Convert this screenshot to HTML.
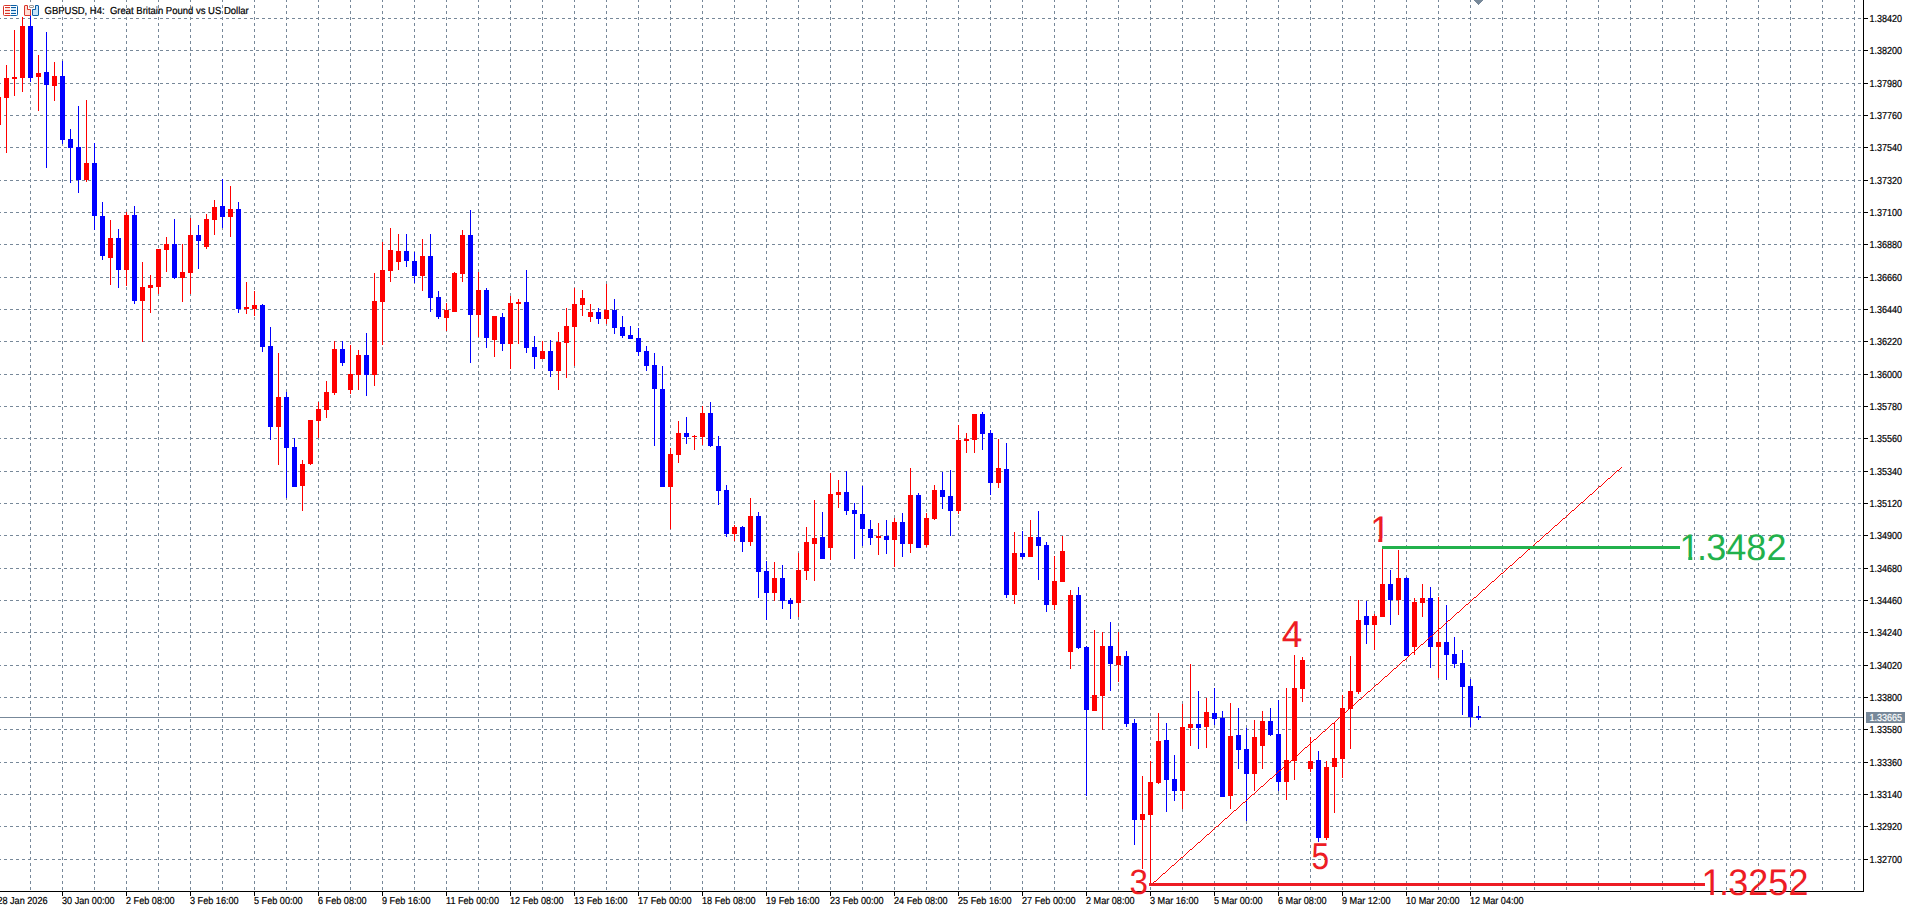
<!DOCTYPE html>
<html lang="en"><head><meta charset="utf-8"><title>GBPUSD, H4</title>
<style>html,body{margin:0;padding:0;background:#fff;overflow:hidden}svg{display:block}.g line{stroke:#778899;stroke-width:1;stroke-dasharray:3 3}.s{font-family:"Liberation Sans",sans-serif;font-size:9.7px;fill:#000;stroke:#000;stroke-width:.2px;white-space:pre;text-rendering:geometricPrecision}.n{font-family:"Liberation Sans",sans-serif;font-size:37px}.r{fill:#f00}.b{fill:#00f}</style></head><body>
<svg width="1911" height="909" viewBox="0 0 1911 909" shape-rendering="crispEdges">
<rect width="1911" height="909" fill="#fff"/>
<g class="g">
<line x1="30.5" y1="0" x2="30.5" y2="891" stroke-dashoffset="1"/>
<line x1="62.5" y1="0" x2="62.5" y2="891" stroke-dashoffset="1"/>
<line x1="94.5" y1="0" x2="94.5" y2="891" stroke-dashoffset="1"/>
<line x1="126.5" y1="0" x2="126.5" y2="891" stroke-dashoffset="1"/>
<line x1="158.5" y1="0" x2="158.5" y2="891" stroke-dashoffset="1"/>
<line x1="190.5" y1="0" x2="190.5" y2="891" stroke-dashoffset="1"/>
<line x1="222.5" y1="0" x2="222.5" y2="891" stroke-dashoffset="1"/>
<line x1="254.5" y1="0" x2="254.5" y2="891" stroke-dashoffset="1"/>
<line x1="286.5" y1="0" x2="286.5" y2="891" stroke-dashoffset="1"/>
<line x1="318.5" y1="0" x2="318.5" y2="891" stroke-dashoffset="1"/>
<line x1="350.5" y1="0" x2="350.5" y2="891" stroke-dashoffset="1"/>
<line x1="382.5" y1="0" x2="382.5" y2="891" stroke-dashoffset="1"/>
<line x1="414.5" y1="0" x2="414.5" y2="891" stroke-dashoffset="1"/>
<line x1="446.5" y1="0" x2="446.5" y2="891" stroke-dashoffset="1"/>
<line x1="478.5" y1="0" x2="478.5" y2="891" stroke-dashoffset="1"/>
<line x1="510.5" y1="0" x2="510.5" y2="891" stroke-dashoffset="1"/>
<line x1="542.5" y1="0" x2="542.5" y2="891" stroke-dashoffset="1"/>
<line x1="574.5" y1="0" x2="574.5" y2="891" stroke-dashoffset="1"/>
<line x1="606.5" y1="0" x2="606.5" y2="891" stroke-dashoffset="1"/>
<line x1="638.5" y1="0" x2="638.5" y2="891" stroke-dashoffset="1"/>
<line x1="670.5" y1="0" x2="670.5" y2="891" stroke-dashoffset="1"/>
<line x1="702.5" y1="0" x2="702.5" y2="891" stroke-dashoffset="1"/>
<line x1="734.5" y1="0" x2="734.5" y2="891" stroke-dashoffset="1"/>
<line x1="766.5" y1="0" x2="766.5" y2="891" stroke-dashoffset="1"/>
<line x1="798.5" y1="0" x2="798.5" y2="891" stroke-dashoffset="1"/>
<line x1="830.5" y1="0" x2="830.5" y2="891" stroke-dashoffset="1"/>
<line x1="862.5" y1="0" x2="862.5" y2="891" stroke-dashoffset="1"/>
<line x1="894.5" y1="0" x2="894.5" y2="891" stroke-dashoffset="1"/>
<line x1="926.5" y1="0" x2="926.5" y2="891" stroke-dashoffset="1"/>
<line x1="958.5" y1="0" x2="958.5" y2="891" stroke-dashoffset="1"/>
<line x1="990.5" y1="0" x2="990.5" y2="891" stroke-dashoffset="1"/>
<line x1="1022.5" y1="0" x2="1022.5" y2="891" stroke-dashoffset="1"/>
<line x1="1054.5" y1="0" x2="1054.5" y2="891" stroke-dashoffset="1"/>
<line x1="1086.5" y1="0" x2="1086.5" y2="891" stroke-dashoffset="1"/>
<line x1="1118.5" y1="0" x2="1118.5" y2="891" stroke-dashoffset="1"/>
<line x1="1150.5" y1="0" x2="1150.5" y2="891" stroke-dashoffset="1"/>
<line x1="1182.5" y1="0" x2="1182.5" y2="891" stroke-dashoffset="1"/>
<line x1="1214.5" y1="0" x2="1214.5" y2="891" stroke-dashoffset="1"/>
<line x1="1246.5" y1="0" x2="1246.5" y2="891" stroke-dashoffset="1"/>
<line x1="1278.5" y1="0" x2="1278.5" y2="891" stroke-dashoffset="1"/>
<line x1="1310.5" y1="0" x2="1310.5" y2="891" stroke-dashoffset="1"/>
<line x1="1342.5" y1="0" x2="1342.5" y2="891" stroke-dashoffset="1"/>
<line x1="1374.5" y1="0" x2="1374.5" y2="891" stroke-dashoffset="1"/>
<line x1="1406.5" y1="0" x2="1406.5" y2="891" stroke-dashoffset="1"/>
<line x1="1438.5" y1="0" x2="1438.5" y2="891" stroke-dashoffset="1"/>
<line x1="1470.5" y1="0" x2="1470.5" y2="891" stroke-dashoffset="1"/>
<line x1="1502.5" y1="0" x2="1502.5" y2="891" stroke-dashoffset="1"/>
<line x1="1534.5" y1="0" x2="1534.5" y2="891" stroke-dashoffset="1"/>
<line x1="1566.5" y1="0" x2="1566.5" y2="891" stroke-dashoffset="1"/>
<line x1="1598.5" y1="0" x2="1598.5" y2="891" stroke-dashoffset="1"/>
<line x1="1630.5" y1="0" x2="1630.5" y2="891" stroke-dashoffset="1"/>
<line x1="1662.5" y1="0" x2="1662.5" y2="891" stroke-dashoffset="1"/>
<line x1="1694.5" y1="0" x2="1694.5" y2="891" stroke-dashoffset="1"/>
<line x1="1726.5" y1="0" x2="1726.5" y2="891" stroke-dashoffset="1"/>
<line x1="1758.5" y1="0" x2="1758.5" y2="891" stroke-dashoffset="1"/>
<line x1="1790.5" y1="0" x2="1790.5" y2="891" stroke-dashoffset="1"/>
<line x1="1822.5" y1="0" x2="1822.5" y2="891" stroke-dashoffset="1"/>
<line x1="1854.5" y1="0" x2="1854.5" y2="891" stroke-dashoffset="1"/>
<line x1="0" y1="18.5" x2="1863" y2="18.5" stroke-dashoffset="2"/>
<line x1="0" y1="50.5" x2="1863" y2="50.5" stroke-dashoffset="2"/>
<line x1="0" y1="83.5" x2="1863" y2="83.5" stroke-dashoffset="2"/>
<line x1="0" y1="115.5" x2="1863" y2="115.5" stroke-dashoffset="2"/>
<line x1="0" y1="147.5" x2="1863" y2="147.5" stroke-dashoffset="2"/>
<line x1="0" y1="180.5" x2="1863" y2="180.5" stroke-dashoffset="2"/>
<line x1="0" y1="212.5" x2="1863" y2="212.5" stroke-dashoffset="2"/>
<line x1="0" y1="244.5" x2="1863" y2="244.5" stroke-dashoffset="2"/>
<line x1="0" y1="277.5" x2="1863" y2="277.5" stroke-dashoffset="2"/>
<line x1="0" y1="309.5" x2="1863" y2="309.5" stroke-dashoffset="2"/>
<line x1="0" y1="341.5" x2="1863" y2="341.5" stroke-dashoffset="2"/>
<line x1="0" y1="374.5" x2="1863" y2="374.5" stroke-dashoffset="2"/>
<line x1="0" y1="406.5" x2="1863" y2="406.5" stroke-dashoffset="2"/>
<line x1="0" y1="438.5" x2="1863" y2="438.5" stroke-dashoffset="2"/>
<line x1="0" y1="471.5" x2="1863" y2="471.5" stroke-dashoffset="2"/>
<line x1="0" y1="503.5" x2="1863" y2="503.5" stroke-dashoffset="2"/>
<line x1="0" y1="535.5" x2="1863" y2="535.5" stroke-dashoffset="2"/>
<line x1="0" y1="568.5" x2="1863" y2="568.5" stroke-dashoffset="2"/>
<line x1="0" y1="600.5" x2="1863" y2="600.5" stroke-dashoffset="2"/>
<line x1="0" y1="632.5" x2="1863" y2="632.5" stroke-dashoffset="2"/>
<line x1="0" y1="665.5" x2="1863" y2="665.5" stroke-dashoffset="2"/>
<line x1="0" y1="697.5" x2="1863" y2="697.5" stroke-dashoffset="2"/>
<line x1="0" y1="729.5" x2="1863" y2="729.5" stroke-dashoffset="2"/>
<line x1="0" y1="762.5" x2="1863" y2="762.5" stroke-dashoffset="2"/>
<line x1="0" y1="794.5" x2="1863" y2="794.5" stroke-dashoffset="2"/>
<line x1="0" y1="826.5" x2="1863" y2="826.5" stroke-dashoffset="2"/>
<line x1="0" y1="859.5" x2="1863" y2="859.5" stroke-dashoffset="2"/>
</g>
<rect x="0" y="717" width="1863" height="1" fill="#778899"/>
<g>
<rect class="r" x="-2" y="97" width="1" height="28"/>
<rect class="r" x="-4" y="97" width="5" height="28"/>
<rect class="r" x="6" y="65" width="1" height="88"/>
<rect class="r" x="4" y="78" width="5" height="20"/>
<rect class="r" x="14" y="30" width="1" height="66"/>
<rect class="r" x="12" y="77" width="5" height="2"/>
<rect class="r" x="22" y="17" width="1" height="75"/>
<rect class="r" x="20" y="26" width="5" height="52"/>
<rect class="b" x="30" y="13" width="1" height="69"/>
<rect class="b" x="28" y="26" width="5" height="52"/>
<rect class="r" x="38" y="55" width="1" height="56"/>
<rect class="r" x="36" y="73" width="5" height="4"/>
<rect class="b" x="46" y="32" width="1" height="136"/>
<rect class="b" x="44" y="72" width="5" height="13"/>
<rect class="r" x="54" y="62" width="1" height="39"/>
<rect class="r" x="52" y="76" width="5" height="10"/>
<rect class="b" x="62" y="61" width="1" height="83"/>
<rect class="b" x="60" y="76" width="5" height="64"/>
<rect class="b" x="70" y="129" width="1" height="54"/>
<rect class="b" x="68" y="139" width="5" height="9"/>
<rect class="b" x="78" y="106" width="1" height="87"/>
<rect class="b" x="76" y="147" width="5" height="33"/>
<rect class="r" x="86" y="100" width="1" height="82"/>
<rect class="r" x="84" y="163" width="5" height="17"/>
<rect class="b" x="94" y="143" width="1" height="87"/>
<rect class="b" x="92" y="163" width="5" height="53"/>
<rect class="b" x="102" y="202" width="1" height="58"/>
<rect class="b" x="100" y="216" width="5" height="40"/>
<rect class="r" x="110" y="220" width="1" height="65"/>
<rect class="r" x="108" y="238" width="5" height="20"/>
<rect class="b" x="118" y="229" width="1" height="59"/>
<rect class="b" x="116" y="238" width="5" height="32"/>
<rect class="r" x="126" y="212" width="1" height="74"/>
<rect class="r" x="124" y="215" width="5" height="55"/>
<rect class="b" x="134" y="206" width="1" height="98"/>
<rect class="b" x="132" y="215" width="5" height="86"/>
<rect class="r" x="142" y="262" width="1" height="80"/>
<rect class="r" x="140" y="287" width="5" height="14"/>
<rect class="r" x="150" y="275" width="1" height="38"/>
<rect class="r" x="148" y="285" width="5" height="3"/>
<rect class="r" x="158" y="249" width="1" height="45"/>
<rect class="r" x="156" y="249" width="5" height="38"/>
<rect class="r" x="166" y="237" width="1" height="35"/>
<rect class="r" x="164" y="244" width="5" height="6"/>
<rect class="b" x="174" y="219" width="1" height="60"/>
<rect class="b" x="172" y="244" width="5" height="34"/>
<rect class="r" x="182" y="244" width="1" height="58"/>
<rect class="r" x="180" y="272" width="5" height="6"/>
<rect class="r" x="190" y="218" width="1" height="76"/>
<rect class="r" x="188" y="235" width="5" height="38"/>
<rect class="b" x="198" y="225" width="1" height="44"/>
<rect class="b" x="196" y="235" width="5" height="6"/>
<rect class="r" x="206" y="214" width="1" height="35"/>
<rect class="r" x="204" y="219" width="5" height="28"/>
<rect class="r" x="214" y="200" width="1" height="35"/>
<rect class="r" x="212" y="207" width="5" height="13"/>
<rect class="b" x="222" y="179" width="1" height="49"/>
<rect class="b" x="220" y="206" width="5" height="11"/>
<rect class="r" x="230" y="186" width="1" height="51"/>
<rect class="r" x="228" y="209" width="5" height="8"/>
<rect class="b" x="238" y="202" width="1" height="111"/>
<rect class="b" x="236" y="209" width="5" height="100"/>
<rect class="r" x="246" y="282" width="1" height="32"/>
<rect class="r" x="244" y="307" width="5" height="2"/>
<rect class="r" x="254" y="291" width="1" height="25"/>
<rect class="r" x="252" y="305" width="5" height="4"/>
<rect class="b" x="262" y="304" width="1" height="48"/>
<rect class="b" x="260" y="305" width="5" height="42"/>
<rect class="b" x="270" y="327" width="1" height="113"/>
<rect class="b" x="268" y="346" width="5" height="81"/>
<rect class="r" x="278" y="353" width="1" height="112"/>
<rect class="r" x="276" y="397" width="5" height="30"/>
<rect class="b" x="286" y="392" width="1" height="106"/>
<rect class="b" x="284" y="397" width="5" height="51"/>
<rect class="b" x="294" y="438" width="1" height="49"/>
<rect class="b" x="292" y="447" width="5" height="40"/>
<rect class="r" x="302" y="460" width="1" height="51"/>
<rect class="r" x="300" y="464" width="5" height="22"/>
<rect class="r" x="310" y="420" width="1" height="45"/>
<rect class="r" x="308" y="420" width="5" height="44"/>
<rect class="r" x="318" y="402" width="1" height="36"/>
<rect class="r" x="316" y="409" width="5" height="12"/>
<rect class="r" x="326" y="381" width="1" height="37"/>
<rect class="r" x="324" y="392" width="5" height="18"/>
<rect class="r" x="334" y="341" width="1" height="54"/>
<rect class="r" x="332" y="349" width="5" height="44"/>
<rect class="b" x="342" y="341" width="1" height="25"/>
<rect class="b" x="340" y="349" width="5" height="14"/>
<rect class="r" x="350" y="345" width="1" height="49"/>
<rect class="r" x="348" y="374" width="5" height="16"/>
<rect class="r" x="358" y="350" width="1" height="40"/>
<rect class="r" x="356" y="355" width="5" height="20"/>
<rect class="b" x="366" y="333" width="1" height="63"/>
<rect class="b" x="364" y="355" width="5" height="20"/>
<rect class="r" x="374" y="273" width="1" height="113"/>
<rect class="r" x="372" y="301" width="5" height="74"/>
<rect class="r" x="382" y="242" width="1" height="103"/>
<rect class="r" x="380" y="270" width="5" height="32"/>
<rect class="r" x="390" y="228" width="1" height="54"/>
<rect class="r" x="388" y="250" width="5" height="21"/>
<rect class="r" x="398" y="234" width="1" height="36"/>
<rect class="r" x="396" y="251" width="5" height="11"/>
<rect class="b" x="406" y="234" width="1" height="33"/>
<rect class="b" x="404" y="251" width="5" height="10"/>
<rect class="b" x="414" y="252" width="1" height="31"/>
<rect class="b" x="412" y="261" width="5" height="15"/>
<rect class="r" x="422" y="239" width="1" height="52"/>
<rect class="r" x="420" y="256" width="5" height="20"/>
<rect class="b" x="430" y="234" width="1" height="78"/>
<rect class="b" x="428" y="256" width="5" height="42"/>
<rect class="b" x="438" y="291" width="1" height="28"/>
<rect class="b" x="436" y="297" width="5" height="20"/>
<rect class="r" x="446" y="303" width="1" height="28"/>
<rect class="r" x="444" y="310" width="5" height="8"/>
<rect class="r" x="454" y="272" width="1" height="40"/>
<rect class="r" x="452" y="273" width="5" height="39"/>
<rect class="r" x="462" y="230" width="1" height="52"/>
<rect class="r" x="460" y="235" width="5" height="39"/>
<rect class="b" x="470" y="210" width="1" height="153"/>
<rect class="b" x="468" y="235" width="5" height="80"/>
<rect class="r" x="478" y="272" width="1" height="65"/>
<rect class="r" x="476" y="290" width="5" height="25"/>
<rect class="b" x="486" y="288" width="1" height="60"/>
<rect class="b" x="484" y="290" width="5" height="48"/>
<rect class="r" x="494" y="316" width="1" height="41"/>
<rect class="r" x="492" y="316" width="5" height="24"/>
<rect class="b" x="502" y="313" width="1" height="38"/>
<rect class="b" x="500" y="317" width="5" height="27"/>
<rect class="r" x="510" y="296" width="1" height="73"/>
<rect class="r" x="508" y="303" width="5" height="41"/>
<rect class="r" x="518" y="299" width="1" height="45"/>
<rect class="r" x="516" y="302" width="5" height="2"/>
<rect class="b" x="526" y="270" width="1" height="83"/>
<rect class="b" x="524" y="302" width="5" height="46"/>
<rect class="b" x="534" y="336" width="1" height="33"/>
<rect class="b" x="532" y="347" width="5" height="10"/>
<rect class="r" x="542" y="341" width="1" height="18"/>
<rect class="r" x="540" y="351" width="5" height="8"/>
<rect class="b" x="550" y="340" width="1" height="37"/>
<rect class="b" x="548" y="351" width="5" height="20"/>
<rect class="r" x="558" y="332" width="1" height="58"/>
<rect class="r" x="556" y="342" width="5" height="29"/>
<rect class="r" x="566" y="308" width="1" height="70"/>
<rect class="r" x="564" y="326" width="5" height="17"/>
<rect class="r" x="574" y="288" width="1" height="78"/>
<rect class="r" x="572" y="304" width="5" height="23"/>
<rect class="r" x="582" y="290" width="1" height="26"/>
<rect class="r" x="580" y="298" width="5" height="7"/>
<rect class="r" x="590" y="304" width="1" height="18"/>
<rect class="r" x="588" y="312" width="5" height="5"/>
<rect class="b" x="598" y="308" width="1" height="16"/>
<rect class="b" x="596" y="312" width="5" height="7"/>
<rect class="r" x="606" y="284" width="1" height="40"/>
<rect class="r" x="604" y="310" width="5" height="9"/>
<rect class="b" x="614" y="299" width="1" height="35"/>
<rect class="b" x="612" y="310" width="5" height="18"/>
<rect class="b" x="622" y="316" width="1" height="22"/>
<rect class="b" x="620" y="327" width="5" height="9"/>
<rect class="b" x="630" y="326" width="1" height="13"/>
<rect class="b" x="628" y="335" width="5" height="4"/>
<rect class="b" x="638" y="328" width="1" height="28"/>
<rect class="b" x="636" y="338" width="5" height="14"/>
<rect class="b" x="646" y="346" width="1" height="25"/>
<rect class="b" x="644" y="351" width="5" height="15"/>
<rect class="b" x="654" y="353" width="1" height="93"/>
<rect class="b" x="652" y="365" width="5" height="24"/>
<rect class="b" x="662" y="366" width="1" height="121"/>
<rect class="b" x="660" y="389" width="5" height="98"/>
<rect class="r" x="670" y="448" width="1" height="81"/>
<rect class="r" x="668" y="454" width="5" height="33"/>
<rect class="r" x="678" y="421" width="1" height="42"/>
<rect class="r" x="676" y="433" width="5" height="22"/>
<rect class="b" x="686" y="417" width="1" height="27"/>
<rect class="b" x="684" y="433" width="5" height="4"/>
<rect class="r" x="694" y="435" width="1" height="15"/>
<rect class="r" x="692" y="436" width="5" height="1"/>
<rect class="r" x="702" y="406" width="1" height="39"/>
<rect class="r" x="700" y="413" width="5" height="24"/>
<rect class="b" x="710" y="402" width="1" height="45"/>
<rect class="b" x="708" y="413" width="5" height="33"/>
<rect class="b" x="718" y="436" width="1" height="69"/>
<rect class="b" x="716" y="446" width="5" height="45"/>
<rect class="b" x="726" y="485" width="1" height="52"/>
<rect class="b" x="724" y="490" width="5" height="44"/>
<rect class="r" x="734" y="525" width="1" height="16"/>
<rect class="r" x="732" y="527" width="5" height="7"/>
<rect class="b" x="742" y="526" width="1" height="26"/>
<rect class="b" x="740" y="527" width="5" height="15"/>
<rect class="r" x="750" y="498" width="1" height="48"/>
<rect class="r" x="748" y="516" width="5" height="26"/>
<rect class="b" x="758" y="512" width="1" height="86"/>
<rect class="b" x="756" y="516" width="5" height="56"/>
<rect class="b" x="766" y="561" width="1" height="59"/>
<rect class="b" x="764" y="571" width="5" height="22"/>
<rect class="r" x="774" y="562" width="1" height="39"/>
<rect class="r" x="772" y="578" width="5" height="15"/>
<rect class="b" x="782" y="565" width="1" height="44"/>
<rect class="b" x="780" y="578" width="5" height="23"/>
<rect class="b" x="790" y="598" width="1" height="21"/>
<rect class="b" x="788" y="600" width="5" height="4"/>
<rect class="r" x="798" y="553" width="1" height="64"/>
<rect class="r" x="796" y="570" width="5" height="33"/>
<rect class="r" x="806" y="527" width="1" height="53"/>
<rect class="r" x="804" y="542" width="5" height="29"/>
<rect class="r" x="814" y="500" width="1" height="81"/>
<rect class="r" x="812" y="538" width="5" height="6"/>
<rect class="b" x="822" y="512" width="1" height="47"/>
<rect class="b" x="820" y="537" width="5" height="22"/>
<rect class="r" x="830" y="473" width="1" height="87"/>
<rect class="r" x="828" y="494" width="5" height="54"/>
<rect class="r" x="838" y="480" width="1" height="28"/>
<rect class="r" x="836" y="492" width="5" height="3"/>
<rect class="b" x="846" y="471" width="1" height="44"/>
<rect class="b" x="844" y="492" width="5" height="19"/>
<rect class="b" x="854" y="503" width="1" height="56"/>
<rect class="b" x="852" y="510" width="5" height="4"/>
<rect class="b" x="862" y="486" width="1" height="60"/>
<rect class="b" x="860" y="514" width="5" height="15"/>
<rect class="b" x="870" y="520" width="1" height="25"/>
<rect class="b" x="868" y="529" width="5" height="9"/>
<rect class="r" x="878" y="523" width="1" height="32"/>
<rect class="r" x="876" y="536" width="5" height="2"/>
<rect class="b" x="886" y="520" width="1" height="34"/>
<rect class="b" x="884" y="536" width="5" height="4"/>
<rect class="r" x="894" y="518" width="1" height="49"/>
<rect class="r" x="892" y="522" width="5" height="18"/>
<rect class="b" x="902" y="513" width="1" height="44"/>
<rect class="b" x="900" y="522" width="5" height="22"/>
<rect class="r" x="910" y="468" width="1" height="85"/>
<rect class="r" x="908" y="495" width="5" height="49"/>
<rect class="b" x="918" y="493" width="1" height="55"/>
<rect class="b" x="916" y="495" width="5" height="53"/>
<rect class="r" x="926" y="513" width="1" height="34"/>
<rect class="r" x="924" y="518" width="5" height="27"/>
<rect class="r" x="934" y="485" width="1" height="35"/>
<rect class="r" x="932" y="490" width="5" height="29"/>
<rect class="b" x="942" y="472" width="1" height="37"/>
<rect class="b" x="940" y="490" width="5" height="7"/>
<rect class="b" x="950" y="470" width="1" height="66"/>
<rect class="b" x="948" y="496" width="5" height="15"/>
<rect class="r" x="958" y="425" width="1" height="89"/>
<rect class="r" x="956" y="440" width="5" height="71"/>
<rect class="r" x="966" y="433" width="1" height="20"/>
<rect class="r" x="964" y="439" width="5" height="2"/>
<rect class="r" x="974" y="414" width="1" height="39"/>
<rect class="r" x="972" y="414" width="5" height="26"/>
<rect class="b" x="982" y="412" width="1" height="38"/>
<rect class="b" x="980" y="414" width="5" height="20"/>
<rect class="b" x="990" y="430" width="1" height="65"/>
<rect class="b" x="988" y="433" width="5" height="50"/>
<rect class="r" x="998" y="439" width="1" height="49"/>
<rect class="r" x="996" y="468" width="5" height="15"/>
<rect class="b" x="1006" y="443" width="1" height="155"/>
<rect class="b" x="1004" y="469" width="5" height="126"/>
<rect class="r" x="1014" y="532" width="1" height="72"/>
<rect class="r" x="1012" y="553" width="5" height="42"/>
<rect class="b" x="1022" y="531" width="1" height="28"/>
<rect class="b" x="1020" y="553" width="5" height="4"/>
<rect class="r" x="1030" y="520" width="1" height="37"/>
<rect class="r" x="1028" y="537" width="5" height="20"/>
<rect class="b" x="1038" y="511" width="1" height="69"/>
<rect class="b" x="1036" y="537" width="5" height="9"/>
<rect class="b" x="1046" y="542" width="1" height="70"/>
<rect class="b" x="1044" y="545" width="5" height="60"/>
<rect class="r" x="1054" y="556" width="1" height="54"/>
<rect class="r" x="1052" y="581" width="5" height="24"/>
<rect class="r" x="1062" y="536" width="1" height="46"/>
<rect class="r" x="1060" y="551" width="5" height="31"/>
<rect class="r" x="1070" y="590" width="1" height="79"/>
<rect class="r" x="1068" y="595" width="5" height="57"/>
<rect class="b" x="1078" y="587" width="1" height="62"/>
<rect class="b" x="1076" y="595" width="5" height="53"/>
<rect class="b" x="1086" y="646" width="1" height="150"/>
<rect class="b" x="1084" y="647" width="5" height="63"/>
<rect class="r" x="1094" y="630" width="1" height="81"/>
<rect class="r" x="1092" y="695" width="5" height="16"/>
<rect class="r" x="1102" y="632" width="1" height="98"/>
<rect class="r" x="1100" y="646" width="5" height="50"/>
<rect class="b" x="1110" y="622" width="1" height="69"/>
<rect class="b" x="1108" y="646" width="5" height="18"/>
<rect class="r" x="1118" y="632" width="1" height="50"/>
<rect class="r" x="1116" y="656" width="5" height="9"/>
<rect class="b" x="1126" y="651" width="1" height="76"/>
<rect class="b" x="1124" y="656" width="5" height="68"/>
<rect class="b" x="1134" y="719" width="1" height="126"/>
<rect class="b" x="1132" y="723" width="5" height="97"/>
<rect class="r" x="1142" y="776" width="1" height="93"/>
<rect class="r" x="1140" y="814" width="5" height="6"/>
<rect class="r" x="1150" y="761" width="1" height="122"/>
<rect class="r" x="1148" y="782" width="5" height="33"/>
<rect class="r" x="1158" y="713" width="1" height="71"/>
<rect class="r" x="1156" y="741" width="5" height="42"/>
<rect class="b" x="1166" y="723" width="1" height="89"/>
<rect class="b" x="1164" y="740" width="5" height="40"/>
<rect class="b" x="1174" y="755" width="1" height="46"/>
<rect class="b" x="1172" y="779" width="5" height="12"/>
<rect class="r" x="1182" y="704" width="1" height="105"/>
<rect class="r" x="1180" y="727" width="5" height="64"/>
<rect class="r" x="1190" y="664" width="1" height="82"/>
<rect class="r" x="1188" y="724" width="5" height="4"/>
<rect class="b" x="1198" y="691" width="1" height="58"/>
<rect class="b" x="1196" y="724" width="5" height="4"/>
<rect class="r" x="1206" y="698" width="1" height="50"/>
<rect class="r" x="1204" y="712" width="5" height="15"/>
<rect class="b" x="1214" y="688" width="1" height="37"/>
<rect class="b" x="1212" y="713" width="5" height="6"/>
<rect class="b" x="1222" y="711" width="1" height="86"/>
<rect class="b" x="1220" y="718" width="5" height="79"/>
<rect class="r" x="1230" y="703" width="1" height="106"/>
<rect class="r" x="1228" y="736" width="5" height="60"/>
<rect class="b" x="1238" y="708" width="1" height="61"/>
<rect class="b" x="1236" y="735" width="5" height="15"/>
<rect class="b" x="1246" y="728" width="1" height="93"/>
<rect class="b" x="1244" y="749" width="5" height="25"/>
<rect class="r" x="1254" y="720" width="1" height="71"/>
<rect class="r" x="1252" y="737" width="5" height="37"/>
<rect class="r" x="1262" y="711" width="1" height="58"/>
<rect class="r" x="1260" y="721" width="5" height="25"/>
<rect class="b" x="1270" y="708" width="1" height="28"/>
<rect class="b" x="1268" y="721" width="5" height="14"/>
<rect class="b" x="1278" y="700" width="1" height="91"/>
<rect class="b" x="1276" y="734" width="5" height="48"/>
<rect class="r" x="1286" y="688" width="1" height="112"/>
<rect class="r" x="1284" y="760" width="5" height="22"/>
<rect class="r" x="1294" y="655" width="1" height="125"/>
<rect class="r" x="1292" y="688" width="5" height="73"/>
<rect class="r" x="1302" y="657" width="1" height="45"/>
<rect class="r" x="1300" y="660" width="5" height="29"/>
<rect class="r" x="1310" y="737" width="1" height="35"/>
<rect class="r" x="1308" y="761" width="5" height="8"/>
<rect class="b" x="1318" y="751" width="1" height="91"/>
<rect class="b" x="1316" y="760" width="5" height="78"/>
<rect class="r" x="1326" y="761" width="1" height="79"/>
<rect class="r" x="1324" y="767" width="5" height="71"/>
<rect class="r" x="1334" y="723" width="1" height="90"/>
<rect class="r" x="1332" y="758" width="5" height="9"/>
<rect class="r" x="1342" y="695" width="1" height="83"/>
<rect class="r" x="1340" y="708" width="5" height="51"/>
<rect class="r" x="1350" y="656" width="1" height="93"/>
<rect class="r" x="1348" y="691" width="5" height="18"/>
<rect class="r" x="1358" y="600" width="1" height="94"/>
<rect class="r" x="1356" y="620" width="5" height="72"/>
<rect class="b" x="1366" y="601" width="1" height="43"/>
<rect class="b" x="1364" y="616" width="5" height="9"/>
<rect class="r" x="1374" y="614" width="1" height="36"/>
<rect class="r" x="1372" y="616" width="5" height="9"/>
<rect class="r" x="1382" y="549" width="1" height="68"/>
<rect class="r" x="1380" y="584" width="5" height="33"/>
<rect class="b" x="1390" y="570" width="1" height="55"/>
<rect class="b" x="1388" y="584" width="5" height="16"/>
<rect class="r" x="1398" y="550" width="1" height="65"/>
<rect class="r" x="1396" y="578" width="5" height="22"/>
<rect class="b" x="1406" y="577" width="1" height="79"/>
<rect class="b" x="1404" y="578" width="5" height="78"/>
<rect class="r" x="1414" y="598" width="1" height="57"/>
<rect class="r" x="1412" y="602" width="5" height="45"/>
<rect class="r" x="1422" y="584" width="1" height="33"/>
<rect class="r" x="1420" y="598" width="5" height="5"/>
<rect class="b" x="1430" y="587" width="1" height="81"/>
<rect class="b" x="1428" y="598" width="5" height="49"/>
<rect class="r" x="1438" y="597" width="1" height="81"/>
<rect class="r" x="1436" y="642" width="5" height="5"/>
<rect class="b" x="1446" y="605" width="1" height="75"/>
<rect class="b" x="1444" y="642" width="5" height="13"/>
<rect class="b" x="1454" y="637" width="1" height="31"/>
<rect class="b" x="1452" y="654" width="5" height="10"/>
<rect class="b" x="1462" y="650" width="1" height="65"/>
<rect class="b" x="1460" y="663" width="5" height="24"/>
<rect class="b" x="1470" y="679" width="1" height="48"/>
<rect class="b" x="1468" y="686" width="5" height="31"/>
<rect class="b" x="1478" y="706" width="1" height="14"/>
<rect class="b" x="1476" y="716" width="5" height="2"/>
</g>
<path fill="#f00" d="M1150 885h1v1h-1zm1 -1h1v1h-1zm1 -1h1v1h-1zm1 -1h1v1h-1zm1 -1h1v1h-1zm1 0h1v1h-1zm1 -1h1v1h-1zm1 -1h1v1h-1zm1 -1h1v1h-1zm1 -1h1v1h-1zm1 -1h1v1h-1zm1 -1h1v1h-1zm1 -1h1v1h-1zm1 -1h1v1h-1zm1 0h1v1h-1zm1 -1h1v1h-1zm1 -1h1v1h-1zm1 -1h1v1h-1zm1 -1h1v1h-1zm1 -1h1v1h-1zm1 -1h1v1h-1zm1 -1h1v1h-1zm1 -1h1v1h-1zm1 0h1v1h-1zm1 -1h1v1h-1zm1 -1h1v1h-1zm1 -1h1v1h-1zm1 -1h1v1h-1zm1 -1h1v1h-1zm1 -1h1v1h-1zm1 -1h1v1h-1zm1 -1h1v1h-1zm1 0h1v1h-1zm1 -1h1v1h-1zm1 -1h1v1h-1zm1 -1h1v1h-1zm1 -1h1v1h-1zm1 -1h1v1h-1zm1 -1h1v1h-1zm1 -1h1v1h-1zm1 -1h1v1h-1zm1 0h1v1h-1zm1 -1h1v1h-1zm1 -1h1v1h-1zm1 -1h1v1h-1zm1 -1h1v1h-1zm1 -1h1v1h-1zm1 -1h1v1h-1zm1 -1h1v1h-1zm1 0h1v1h-1zm1 -1h1v1h-1zm1 -1h1v1h-1zm1 -1h1v1h-1zm1 -1h1v1h-1zm1 -1h1v1h-1zm1 -1h1v1h-1zm1 -1h1v1h-1zm1 -1h1v1h-1zm1 0h1v1h-1zm1 -1h1v1h-1zm1 -1h1v1h-1zm1 -1h1v1h-1zm1 -1h1v1h-1zm1 -1h1v1h-1zm1 -1h1v1h-1zm1 -1h1v1h-1zm1 -1h1v1h-1zm1 0h1v1h-1zm1 -1h1v1h-1zm1 -1h1v1h-1zm1 -1h1v1h-1zm1 -1h1v1h-1zm1 -1h1v1h-1zm1 -1h1v1h-1zm1 -1h1v1h-1zm1 -1h1v1h-1zm1 0h1v1h-1zm1 -1h1v1h-1zm1 -1h1v1h-1zm1 -1h1v1h-1zm1 -1h1v1h-1zm1 -1h1v1h-1zm1 -1h1v1h-1zm1 -1h1v1h-1zm1 -1h1v1h-1zm1 0h1v1h-1zm1 -1h1v1h-1zm1 -1h1v1h-1zm1 -1h1v1h-1zm1 -1h1v1h-1zm1 -1h1v1h-1zm1 -1h1v1h-1zm1 -1h1v1h-1zm1 -1h1v1h-1zm1 0h1v1h-1zm1 -1h1v1h-1zm1 -1h1v1h-1zm1 -1h1v1h-1zm1 -1h1v1h-1zm1 -1h1v1h-1zm1 -1h1v1h-1zm1 -1h1v1h-1zm1 -1h1v1h-1zm1 0h1v1h-1zm1 -1h1v1h-1zm1 -1h1v1h-1zm1 -1h1v1h-1zm1 -1h1v1h-1zm1 -1h1v1h-1zm1 -1h1v1h-1zm1 -1h1v1h-1zm1 -1h1v1h-1zm1 0h1v1h-1zm1 -1h1v1h-1zm1 -1h1v1h-1zm1 -1h1v1h-1zm1 -1h1v1h-1zm1 -1h1v1h-1zm1 -1h1v1h-1zm1 -1h1v1h-1zm1 -1h1v1h-1zm1 0h1v1h-1zm1 -1h1v1h-1zm1 -1h1v1h-1zm1 -1h1v1h-1zm1 -1h1v1h-1zm1 -1h1v1h-1zm1 -1h1v1h-1zm1 -1h1v1h-1zm1 -1h1v1h-1zm1 0h1v1h-1zm1 -1h1v1h-1zm1 -1h1v1h-1zm1 -1h1v1h-1zm1 -1h1v1h-1zm1 -1h1v1h-1zm1 -1h1v1h-1zm1 -1h1v1h-1zm1 0h1v1h-1zm1 -1h1v1h-1zm1 -1h1v1h-1zm1 -1h1v1h-1zm1 -1h1v1h-1zm1 -1h1v1h-1zm1 -1h1v1h-1zm1 -1h1v1h-1zm1 -1h1v1h-1zm1 0h1v1h-1zm1 -1h1v1h-1zm1 -1h1v1h-1zm1 -1h1v1h-1zm1 -1h1v1h-1zm1 -1h1v1h-1zm1 -1h1v1h-1zm1 -1h1v1h-1zm1 -1h1v1h-1zm1 0h1v1h-1zm1 -1h1v1h-1zm1 -1h1v1h-1zm1 -1h1v1h-1zm1 -1h1v1h-1zm1 -1h1v1h-1zm1 -1h1v1h-1zm1 -1h1v1h-1zm1 -1h1v1h-1zm1 0h1v1h-1zm1 -1h1v1h-1zm1 -1h1v1h-1zm1 -1h1v1h-1zm1 -1h1v1h-1zm1 -1h1v1h-1zm1 -1h1v1h-1zm1 -1h1v1h-1zm1 -1h1v1h-1zm1 0h1v1h-1zm1 -1h1v1h-1zm1 -1h1v1h-1zm1 -1h1v1h-1zm1 -1h1v1h-1zm1 -1h1v1h-1zm1 -1h1v1h-1zm1 -1h1v1h-1zm1 -1h1v1h-1zm1 0h1v1h-1zm1 -1h1v1h-1zm1 -1h1v1h-1zm1 -1h1v1h-1zm1 -1h1v1h-1zm1 -1h1v1h-1zm1 -1h1v1h-1zm1 -1h1v1h-1zm1 -1h1v1h-1zm1 0h1v1h-1zm1 -1h1v1h-1zm1 -1h1v1h-1zm1 -1h1v1h-1zm1 -1h1v1h-1zm1 -1h1v1h-1zm1 -1h1v1h-1zm1 -1h1v1h-1zm1 -1h1v1h-1zm1 0h1v1h-1zm1 -1h1v1h-1zm1 -1h1v1h-1zm1 -1h1v1h-1zm1 -1h1v1h-1zm1 -1h1v1h-1zm1 -1h1v1h-1zm1 -1h1v1h-1zm1 -1h1v1h-1zm1 0h1v1h-1zm1 -1h1v1h-1zm1 -1h1v1h-1zm1 -1h1v1h-1zm1 -1h1v1h-1zm1 -1h1v1h-1zm1 -1h1v1h-1zm1 -1h1v1h-1zm1 -1h1v1h-1zm1 0h1v1h-1zm1 -1h1v1h-1zm1 -1h1v1h-1zm1 -1h1v1h-1zm1 -1h1v1h-1zm1 -1h1v1h-1zm1 -1h1v1h-1zm1 -1h1v1h-1zm1 0h1v1h-1zm1 -1h1v1h-1zm1 -1h1v1h-1zm1 -1h1v1h-1zm1 -1h1v1h-1zm1 -1h1v1h-1zm1 -1h1v1h-1zm1 -1h1v1h-1zm1 -1h1v1h-1zm1 0h1v1h-1zm1 -1h1v1h-1zm1 -1h1v1h-1zm1 -1h1v1h-1zm1 -1h1v1h-1zm1 -1h1v1h-1zm1 -1h1v1h-1zm1 -1h1v1h-1zm1 -1h1v1h-1zm1 0h1v1h-1zm1 -1h1v1h-1zm1 -1h1v1h-1zm1 -1h1v1h-1zm1 -1h1v1h-1zm1 -1h1v1h-1zm1 -1h1v1h-1zm1 -1h1v1h-1zm1 -1h1v1h-1zm1 0h1v1h-1zm1 -1h1v1h-1zm1 -1h1v1h-1zm1 -1h1v1h-1zm1 -1h1v1h-1zm1 -1h1v1h-1zm1 -1h1v1h-1zm1 -1h1v1h-1zm1 -1h1v1h-1zm1 0h1v1h-1zm1 -1h1v1h-1zm1 -1h1v1h-1zm1 -1h1v1h-1zm1 -1h1v1h-1zm1 -1h1v1h-1zm1 -1h1v1h-1zm1 -1h1v1h-1zm1 -1h1v1h-1zm1 0h1v1h-1zm1 -1h1v1h-1zm1 -1h1v1h-1zm1 -1h1v1h-1zm1 -1h1v1h-1zm1 -1h1v1h-1zm1 -1h1v1h-1zm1 -1h1v1h-1zm1 -1h1v1h-1zm1 0h1v1h-1zm1 -1h1v1h-1zm1 -1h1v1h-1zm1 -1h1v1h-1zm1 -1h1v1h-1zm1 -1h1v1h-1zm1 -1h1v1h-1zm1 -1h1v1h-1zm1 -1h1v1h-1zm1 0h1v1h-1zm1 -1h1v1h-1zm1 -1h1v1h-1zm1 -1h1v1h-1zm1 -1h1v1h-1zm1 -1h1v1h-1zm1 -1h1v1h-1zm1 -1h1v1h-1zm1 -1h1v1h-1zm1 0h1v1h-1zm1 -1h1v1h-1zm1 -1h1v1h-1zm1 -1h1v1h-1zm1 -1h1v1h-1zm1 -1h1v1h-1zm1 -1h1v1h-1zm1 -1h1v1h-1zm1 -1h1v1h-1zm1 0h1v1h-1zm1 -1h1v1h-1zm1 -1h1v1h-1zm1 -1h1v1h-1zm1 -1h1v1h-1zm1 -1h1v1h-1zm1 -1h1v1h-1zm1 -1h1v1h-1zm1 -1h1v1h-1zm1 0h1v1h-1zm1 -1h1v1h-1zm1 -1h1v1h-1zm1 -1h1v1h-1zm1 -1h1v1h-1zm1 -1h1v1h-1zm1 -1h1v1h-1zm1 -1h1v1h-1zm1 0h1v1h-1zm1 -1h1v1h-1zm1 -1h1v1h-1zm1 -1h1v1h-1zm1 -1h1v1h-1zm1 -1h1v1h-1zm1 -1h1v1h-1zm1 -1h1v1h-1zm1 -1h1v1h-1zm1 0h1v1h-1zm1 -1h1v1h-1zm1 -1h1v1h-1zm1 -1h1v1h-1zm1 -1h1v1h-1zm1 -1h1v1h-1zm1 -1h1v1h-1zm1 -1h1v1h-1zm1 -1h1v1h-1zm1 0h1v1h-1zm1 -1h1v1h-1zm1 -1h1v1h-1zm1 -1h1v1h-1zm1 -1h1v1h-1zm1 -1h1v1h-1zm1 -1h1v1h-1zm1 -1h1v1h-1zm1 -1h1v1h-1zm1 0h1v1h-1zm1 -1h1v1h-1zm1 -1h1v1h-1zm1 -1h1v1h-1zm1 -1h1v1h-1zm1 -1h1v1h-1zm1 -1h1v1h-1zm1 -1h1v1h-1zm1 -1h1v1h-1zm1 0h1v1h-1zm1 -1h1v1h-1zm1 -1h1v1h-1zm1 -1h1v1h-1zm1 -1h1v1h-1zm1 -1h1v1h-1zm1 -1h1v1h-1zm1 -1h1v1h-1zm1 -1h1v1h-1zm1 0h1v1h-1zm1 -1h1v1h-1zm1 -1h1v1h-1zm1 -1h1v1h-1zm1 -1h1v1h-1zm1 -1h1v1h-1zm1 -1h1v1h-1zm1 -1h1v1h-1zm1 -1h1v1h-1zm1 0h1v1h-1zm1 -1h1v1h-1zm1 -1h1v1h-1zm1 -1h1v1h-1zm1 -1h1v1h-1zm1 -1h1v1h-1zm1 -1h1v1h-1zm1 -1h1v1h-1zm1 -1h1v1h-1zm1 0h1v1h-1zm1 -1h1v1h-1zm1 -1h1v1h-1zm1 -1h1v1h-1zm1 -1h1v1h-1zm1 -1h1v1h-1zm1 -1h1v1h-1zm1 -1h1v1h-1zm1 -1h1v1h-1zm1 0h1v1h-1zm1 -1h1v1h-1zm1 -1h1v1h-1zm1 -1h1v1h-1zm1 -1h1v1h-1zm1 -1h1v1h-1zm1 -1h1v1h-1zm1 -1h1v1h-1zm1 -1h1v1h-1zm1 0h1v1h-1zm1 -1h1v1h-1zm1 -1h1v1h-1zm1 -1h1v1h-1zm1 -1h1v1h-1zm1 -1h1v1h-1zm1 -1h1v1h-1zm1 -1h1v1h-1zm1 0h1v1h-1zm1 -1h1v1h-1zm1 -1h1v1h-1zm1 -1h1v1h-1zm1 -1h1v1h-1zm1 -1h1v1h-1zm1 -1h1v1h-1zm1 -1h1v1h-1zm1 -1h1v1h-1zm1 0h1v1h-1zm1 -1h1v1h-1zm1 -1h1v1h-1zm1 -1h1v1h-1zm1 -1h1v1h-1zm1 -1h1v1h-1zm1 -1h1v1h-1zm1 -1h1v1h-1zm1 -1h1v1h-1zm1 0h1v1h-1zm1 -1h1v1h-1zm1 -1h1v1h-1zm1 -1h1v1h-1zm1 -1h1v1h-1zm1 -1h1v1h-1zm1 -1h1v1h-1zm1 -1h1v1h-1zm1 -1h1v1h-1zm1 0h1v1h-1zm1 -1h1v1h-1zm1 -1h1v1h-1zm1 -1h1v1h-1zm1 -1h1v1h-1zm1 -1h1v1h-1zm1 -1h1v1h-1zm1 -1h1v1h-1zm1 -1h1v1h-1zm1 0h1v1h-1zm1 -1h1v1h-1zm1 -1h1v1h-1zm1 -1h1v1h-1zm1 -1h1v1h-1zm1 -1h1v1h-1zm1 -1h1v1h-1zm1 -1h1v1h-1zm1 -1h1v1h-1zm1 0h1v1h-1zm1 -1h1v1h-1zm1 -1h1v1h-1zm1 -1h1v1h-1zm1 -1h1v1h-1zm1 -1h1v1h-1zm1 -1h1v1h-1zm1 -1h1v1h-1zm1 -1h1v1h-1zm1 0h1v1h-1zm1 -1h1v1h-1zm1 -1h1v1h-1zm1 -1h1v1h-1z"/>
<rect x="1382" y="546" width="298" height="3" fill="#22B14C"/>
<rect x="1149" y="883" width="556" height="3" fill="#ED1C24"/>
<polygon points="1473.6,0 1483.4,0 1478.5,4.9" fill="#778899"/>
<rect x="1863" y="0" width="1" height="892" fill="#000"/>
<rect x="0" y="891" width="1864" height="1" fill="#000"/>
<rect x="1864" y="18" width="4" height="1" fill="#000"/>
<text class="s" transform="translate(1869.5 22) scale(0.93 1.05)">1.38420</text>
<rect x="1864" y="50" width="4" height="1" fill="#000"/>
<text class="s" transform="translate(1869.5 54) scale(0.93 1.05)">1.38200</text>
<rect x="1864" y="83" width="4" height="1" fill="#000"/>
<text class="s" transform="translate(1869.5 87) scale(0.93 1.05)">1.37980</text>
<rect x="1864" y="115" width="4" height="1" fill="#000"/>
<text class="s" transform="translate(1869.5 119) scale(0.93 1.05)">1.37760</text>
<rect x="1864" y="147" width="4" height="1" fill="#000"/>
<text class="s" transform="translate(1869.5 151) scale(0.93 1.05)">1.37540</text>
<rect x="1864" y="180" width="4" height="1" fill="#000"/>
<text class="s" transform="translate(1869.5 184) scale(0.93 1.05)">1.37320</text>
<rect x="1864" y="212" width="4" height="1" fill="#000"/>
<text class="s" transform="translate(1869.5 216) scale(0.93 1.05)">1.37100</text>
<rect x="1864" y="244" width="4" height="1" fill="#000"/>
<text class="s" transform="translate(1869.5 248) scale(0.93 1.05)">1.36880</text>
<rect x="1864" y="277" width="4" height="1" fill="#000"/>
<text class="s" transform="translate(1869.5 281) scale(0.93 1.05)">1.36660</text>
<rect x="1864" y="309" width="4" height="1" fill="#000"/>
<text class="s" transform="translate(1869.5 313) scale(0.93 1.05)">1.36440</text>
<rect x="1864" y="341" width="4" height="1" fill="#000"/>
<text class="s" transform="translate(1869.5 345) scale(0.93 1.05)">1.36220</text>
<rect x="1864" y="374" width="4" height="1" fill="#000"/>
<text class="s" transform="translate(1869.5 378) scale(0.93 1.05)">1.36000</text>
<rect x="1864" y="406" width="4" height="1" fill="#000"/>
<text class="s" transform="translate(1869.5 410) scale(0.93 1.05)">1.35780</text>
<rect x="1864" y="438" width="4" height="1" fill="#000"/>
<text class="s" transform="translate(1869.5 442) scale(0.93 1.05)">1.35560</text>
<rect x="1864" y="471" width="4" height="1" fill="#000"/>
<text class="s" transform="translate(1869.5 475) scale(0.93 1.05)">1.35340</text>
<rect x="1864" y="503" width="4" height="1" fill="#000"/>
<text class="s" transform="translate(1869.5 507) scale(0.93 1.05)">1.35120</text>
<rect x="1864" y="535" width="4" height="1" fill="#000"/>
<text class="s" transform="translate(1869.5 539) scale(0.93 1.05)">1.34900</text>
<rect x="1864" y="568" width="4" height="1" fill="#000"/>
<text class="s" transform="translate(1869.5 572) scale(0.93 1.05)">1.34680</text>
<rect x="1864" y="600" width="4" height="1" fill="#000"/>
<text class="s" transform="translate(1869.5 604) scale(0.93 1.05)">1.34460</text>
<rect x="1864" y="632" width="4" height="1" fill="#000"/>
<text class="s" transform="translate(1869.5 636) scale(0.93 1.05)">1.34240</text>
<rect x="1864" y="665" width="4" height="1" fill="#000"/>
<text class="s" transform="translate(1869.5 669) scale(0.93 1.05)">1.34020</text>
<rect x="1864" y="697" width="4" height="1" fill="#000"/>
<text class="s" transform="translate(1869.5 701) scale(0.93 1.05)">1.33800</text>
<rect x="1864" y="729" width="4" height="1" fill="#000"/>
<text class="s" transform="translate(1869.5 733) scale(0.93 1.05)">1.33580</text>
<rect x="1864" y="762" width="4" height="1" fill="#000"/>
<text class="s" transform="translate(1869.5 766) scale(0.93 1.05)">1.33360</text>
<rect x="1864" y="794" width="4" height="1" fill="#000"/>
<text class="s" transform="translate(1869.5 798) scale(0.93 1.05)">1.33140</text>
<rect x="1864" y="826" width="4" height="1" fill="#000"/>
<text class="s" transform="translate(1869.5 830) scale(0.93 1.05)">1.32920</text>
<rect x="1864" y="859" width="4" height="1" fill="#000"/>
<text class="s" transform="translate(1869.5 863) scale(0.93 1.05)">1.32700</text>
<rect x="1866" y="712" width="39" height="11" fill="#778899"/>
<text class="s" transform="translate(1869.5 721) scale(0.93 1.05)" style="fill:#fff;stroke:#fff">1.33665</text>
<text class="s" transform="translate(-2.6 904) scale(0.94 1.05)">28 Jan 2026</text>
<rect x="62" y="892" width="1" height="4" fill="#000"/>
<text class="s" transform="translate(62 904) scale(0.94 1.05)">30 Jan 00:00</text>
<rect x="126" y="892" width="1" height="4" fill="#000"/>
<text class="s" transform="translate(126 904) scale(0.94 1.05)">2 Feb 08:00</text>
<rect x="190" y="892" width="1" height="4" fill="#000"/>
<text class="s" transform="translate(190 904) scale(0.94 1.05)">3 Feb 16:00</text>
<rect x="254" y="892" width="1" height="4" fill="#000"/>
<text class="s" transform="translate(254 904) scale(0.94 1.05)">5 Feb 00:00</text>
<rect x="318" y="892" width="1" height="4" fill="#000"/>
<text class="s" transform="translate(318 904) scale(0.94 1.05)">6 Feb 08:00</text>
<rect x="382" y="892" width="1" height="4" fill="#000"/>
<text class="s" transform="translate(382 904) scale(0.94 1.05)">9 Feb 16:00</text>
<rect x="446" y="892" width="1" height="4" fill="#000"/>
<text class="s" transform="translate(446 904) scale(0.94 1.05)">11 Feb 00:00</text>
<rect x="510" y="892" width="1" height="4" fill="#000"/>
<text class="s" transform="translate(510 904) scale(0.94 1.05)">12 Feb 08:00</text>
<rect x="574" y="892" width="1" height="4" fill="#000"/>
<text class="s" transform="translate(574 904) scale(0.94 1.05)">13 Feb 16:00</text>
<rect x="638" y="892" width="1" height="4" fill="#000"/>
<text class="s" transform="translate(638 904) scale(0.94 1.05)">17 Feb 00:00</text>
<rect x="702" y="892" width="1" height="4" fill="#000"/>
<text class="s" transform="translate(702 904) scale(0.94 1.05)">18 Feb 08:00</text>
<rect x="766" y="892" width="1" height="4" fill="#000"/>
<text class="s" transform="translate(766 904) scale(0.94 1.05)">19 Feb 16:00</text>
<rect x="830" y="892" width="1" height="4" fill="#000"/>
<text class="s" transform="translate(830 904) scale(0.94 1.05)">23 Feb 00:00</text>
<rect x="894" y="892" width="1" height="4" fill="#000"/>
<text class="s" transform="translate(894 904) scale(0.94 1.05)">24 Feb 08:00</text>
<rect x="958" y="892" width="1" height="4" fill="#000"/>
<text class="s" transform="translate(958 904) scale(0.94 1.05)">25 Feb 16:00</text>
<rect x="1022" y="892" width="1" height="4" fill="#000"/>
<text class="s" transform="translate(1022 904) scale(0.94 1.05)">27 Feb 00:00</text>
<rect x="1086" y="892" width="1" height="4" fill="#000"/>
<text class="s" transform="translate(1086 904) scale(0.94 1.05)">2 Mar 08:00</text>
<rect x="1150" y="892" width="1" height="4" fill="#000"/>
<text class="s" transform="translate(1150 904) scale(0.94 1.05)">3 Mar 16:00</text>
<rect x="1214" y="892" width="1" height="4" fill="#000"/>
<text class="s" transform="translate(1214 904) scale(0.94 1.05)">5 Mar 00:00</text>
<rect x="1278" y="892" width="1" height="4" fill="#000"/>
<text class="s" transform="translate(1278 904) scale(0.94 1.05)">6 Mar 08:00</text>
<rect x="1342" y="892" width="1" height="4" fill="#000"/>
<text class="s" transform="translate(1342 904) scale(0.94 1.05)">9 Mar 12:00</text>
<rect x="1406" y="892" width="1" height="4" fill="#000"/>
<text class="s" transform="translate(1406 904) scale(0.94 1.05)">10 Mar 20:00</text>
<rect x="1470" y="892" width="1" height="4" fill="#000"/>
<text class="s" transform="translate(1470 904) scale(0.94 1.05)">12 Mar 04:00</text>
<defs><clipPath id="cg"><path d="M1670 520h140v36.500h-140zM1688.300 556h4v6h-4zM1698 556h112v6h-112z"/></clipPath><clipPath id="cr"><path d="M1695 860h140v31.700h-140zM1710.300 891h3.500v7h-3.500zM1720 891h115v7h-115z"/></clipPath><clipPath id="c1"><path d="M1365 505h30v33.500h-30zM1378.300 538h4v6h-4z"/></clipPath></defs>
<g shape-rendering="auto" text-rendering="geometricPrecision">
<g clip-path="url(#cg)"><text class="n" transform="translate(1676.3 560) scale(0.973 1)" fill="#22B14C"><tspan dx="3.3">1</tspan><tspan dx="-2.6">.</tspan><tspan dx="-0.7">3482</tspan></text></g>
<g clip-path="url(#cr)"><text class="n" transform="translate(1698.3 895.2) scale(0.973 1)" fill="#ED1C24"><tspan dx="3.3">1</tspan><tspan dx="-2.6">.</tspan><tspan dx="-0.7">3252</tspan></text></g>
<g clip-path="url(#c1)"><text class="n" transform="translate(1370.3 542) scale(0.973 1)" fill="#ED1C24">1</text></g>
<text class="n" transform="translate(1281.7 646.8) scale(1 1.015)" fill="#ED1C24">4</text>
<text class="n" transform="translate(1311.6 868.8) scale(0.856 1.01)" fill="#ED1C24">5</text>
<text class="n" transform="translate(1129.6 894.2) scale(0.9 0.952)" fill="#ED1C24">3</text>
</g>
<g shape-rendering="auto" fill="none" stroke-width="1">
<rect x="5" y="7" width="5" height="7" fill="#fde3dd"/><rect x="11" y="7" width="5" height="7" fill="#d6ecfc"/>
<path d="M10.5 5.5H4.5a1 1 0 0 0-1 1v8a1 1 0 0 0 1 1h6" stroke="#d9362b"/>
<path d="M10.5 5.5h6a1 1 0 0 1 1 1v8a1 1 0 0 1-1 1h-6" stroke="#0b5fa5"/>
<path d="M5 7.5h5M5 10.5h5M5 13.5h5" stroke="#d9362b"/>
<path d="M11 7.5h5M11 10.5h5M11 13.5h5" stroke="#0b5fa5"/>
<path d="M25 5.5h2.500v4h3v5.500a.5 .5 0 0 1-.5 .5h-5a.5 .5 0 0 1-.5-.5v-9a.5 .5 0 0 1 .5-.5z" fill="#ffddd5" stroke="#d9362b"/>
<path d="M38 5.5h-2.500v4h-3v5.500a.5 .5 0 0 0 .5 .5h5a.5 .5 0 0 0 .5-.5v-9a.5 .5 0 0 0-.5-.5z" fill="#c5e4fb" stroke="#0b5fa5"/>
<rect x="29.5" y="5.500" width="4" height="2" rx=".5" fill="#fff" stroke="#999"/>
</g>
<text class="s" transform="translate(44.5 14) scale(0.98 1.05)">GBPUSD, H4:  Great Britain Pound vs US Dollar</text>
</svg></body></html>
